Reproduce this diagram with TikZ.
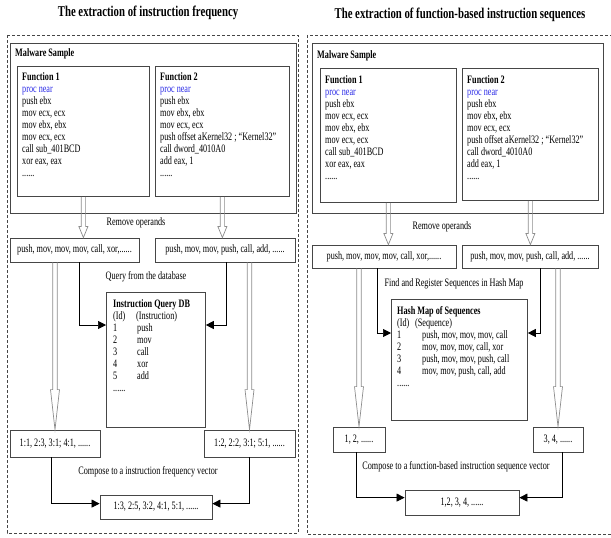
\documentclass[tikz,border=0pt]{standalone}
\usepackage{fontspec}
\setmainfont[FakeStretch=0.72]{Liberation Serif}
\newfontfamily\titlefont[FakeStretch=0.72]{Liberation Serif}
\usetikzlibrary{arrows.meta, positioning, calc}
\definecolor{ProcBlue}{RGB}{40, 40, 230}
\definecolor{BoxGray}{RGB}{70, 70, 70}
\definecolor{ShaftGray}{RGB}{140, 140, 140}

\tikzset{
    panel/.style={draw=BoxGray, line width=0.8bp, dash pattern=on 3bp off 2bp},
    box/.style={draw=BoxGray, line width=0.8bp, inner sep=0pt},
    codetext/.style={anchor=north west, align=left, inner sep=0pt, font=\fontsize{11.4}{12.1}\selectfont},
    step label/.style={font=\fontsize{11.4}{12}\selectfont},
    hollow/.style={draw=ShaftGray, line width=0.7bp, line join=miter},
    conn/.style={draw=black, line width=0.7bp, -{Triangle[length=8bp, width=8bp]}}
}

% open double-shaft arrow: start, end, head length
\newcommand{\hollowarrow}[3]{%
    \draw[hollow] let \p1=(#1), \p2=(#2) in
        (\x1-2.2bp,\y1) -- (\x1-2.2bp,\y2+#3) -- (\x1-4.5bp,\y2+#3) -- (\x1,\y2)
        -- (\x1+4.5bp,\y2+#3) -- (\x1+2.2bp,\y2+#3) -- (\x1+2.2bp,\y1);}

\begin{document}
\begin{tikzpicture}[x=1bp, y=-1bp, every node/.style={font=\fontsize{11.4}{12.1}\selectfont}]
    \useasboundingbox (0,0) rectangle (611,538);

    % --- LEFT PANEL: instruction frequency ---
    \begin{scope}
        \node[font=\titlefont\bfseries\fontsize{15}{16}\selectfont] (titleL) at (148,13) {The extraction of instruction frequency};
        \draw[panel] (7,35) rectangle (298,533);

        % Malware sample with two functions
        \node[box, anchor=north west, minimum width=286bp, minimum height=170bp] (malL) at (10,43) {};
        \node[anchor=west, inner sep=0pt, font=\bfseries\fontsize{11.4}{12}\selectfont] (malLtxt) at (15,54) {Malware Sample};
        \node[box, anchor=north west, minimum width=132bp, minimum height=130bp] (f1L) at (17,66) {};
        \node[codetext] (f1Ltxt) at ([shift={(5,6)}]f1L.north west) {\textbf{Function 1}\\ \textcolor{ProcBlue}{proc near}\\ push ebx\\ mov ecx, ecx\\ mov ebx, ebx\\ mov ecx, ecx\\ call sub\_401BCD\\ xor eax, eax\\ ......};
        \node[box, anchor=north west, minimum width=134bp, minimum height=130bp] (f2L) at (155,66) {};
        \node[codetext] (f2Ltxt) at ([shift={(5,6)}]f2L.north west) {\textbf{Function 2}\\ \textcolor{ProcBlue}{proc near}\\ push ebx\\ mov ebx, ebx\\ mov ecx, ecx\\ push offset aKernel32 ; ``Kernel32''\\ call dword\_4010A0\\ add eax, 1\\ ......};

        \node[step label] (remL) at (136,223) {Remove operands};
        \node[box, minimum width=129bp, minimum height=24bp] (ops1L) at (74.5,250) {push, mov, mov, mov, call, xor,......};
        \node[box, minimum width=140bp, minimum height=24bp] (ops2L) at (225,250) {push, mov, mov, push, call, add, ......};
        \hollowarrow{f1L.south}{f1L.south |- ops1L.north}{11bp}
        \hollowarrow{f2L.south}{f2L.south |- ops2L.north}{11bp}

        % Instruction query DB
        \node[step label] (queryL) at (146,277) {Query from the database};
        \node[box, anchor=north west, minimum width=99bp, minimum height=135bp] (dbL) at (106,292) {};
        \node[codetext] (dbLtxt) at ([shift={(7,7)}]dbL.north west) {\textbf{Instruction Query DB}\\ \makebox[23bp][l]{(Id)}(Instruction)\\ \makebox[24bp][l]{1}push\\ \makebox[24bp][l]{2}mov\\ \makebox[24bp][l]{3}call\\ \makebox[24bp][l]{4}xor\\ \makebox[24bp][l]{5}add\\ ......};
        \draw[conn] ([xshift=4.5bp]ops1L.south) |- ([yshift=-33bp]dbL.north west);
        \draw[conn] ([xshift=1bp]ops2L.south) |- ([yshift=-33bp]dbL.north east);

        % Frequency vectors
        \node[box, minimum width=90bp, minimum height=27bp] (res1L) at (55,443.5) {1:1, 2:3, 3:1; 4:1, ......};
        \node[box, minimum width=91bp, minimum height=27bp] (res2L) at (249.5,443.5) {1:2, 2:2, 3:1; 5:1, ......};
        \hollowarrow{res1L.north |- ops1L.south}{res1L.north}{40bp}
        \hollowarrow{res2L.north |- ops2L.south}{res2L.north}{40bp}

        \node[step label] (compL) at (148,472) {Compose to a instruction frequency vector};
        \node[box, minimum width=112bp, minimum height=24bp] (finL) at (156,507) {1:3, 2:5, 3:2, 4:1, 5:1, ......};
        \draw[conn] ([xshift=-4bp]res1L.south) |- ([yshift=-9bp]finL.north west);
        \draw[conn] (res2L.south) |- ([yshift=-9bp]finL.north east);
    \end{scope}

    % --- RIGHT PANEL: function-based instruction sequences ---
    \begin{scope}
        \node[font=\titlefont\bfseries\fontsize{15}{16}\selectfont] (titleR) at (460,15) {The extraction of function-based instruction sequences};
        \draw[panel] (307,35) rectangle (616,534);

        % Malware sample with two functions
        \node[box, anchor=north west, minimum width=291bp, minimum height=170bp] (malR) at (312,43) {};
        \node[anchor=west, inner sep=0pt, font=\bfseries\fontsize{11.4}{12}\selectfont] (malRtxt) at (317,56) {Malware Sample};
        \node[box, anchor=north west, minimum width=136bp, minimum height=134bp] (f1R) at (320,68) {};
        \node[codetext] (f1Rtxt) at ([shift={(5,7)}]f1R.north west) {\textbf{Function 1}\\ \textcolor{ProcBlue}{proc near}\\ push ebx\\ mov ecx, ecx\\ mov ebx, ebx\\ mov ecx, ecx\\ call sub\_401BCD\\ xor eax, eax\\ ......};
        \node[box, anchor=north west, minimum width=136bp, minimum height=132bp] (f2R) at (462,68) {};
        \node[codetext] (f2Rtxt) at ([shift={(5,7)}]f2R.north west) {\textbf{Function 2}\\ \textcolor{ProcBlue}{proc near}\\ push ebx\\ mov ebx, ebx\\ mov ecx, ecx\\ push offset aKernel32 ; ``Kernel32''\\ call dword\_4010A0\\ add eax, 1\\ ......};

        \node[step label] (remR) at (442,227) {Remove operands};
        \node[box, minimum width=144bp, minimum height=23bp] (ops1R) at (384,256.5) {push, mov, mov, mov, call, xor,......};
        \node[box, minimum width=136bp, minimum height=23bp] (ops2R) at (530,256.5) {push, mov, mov, push, call, add, ......};
        \hollowarrow{f1R.south}{f1R.south |- ops1R.north}{11bp}
        \hollowarrow{f2R.south}{f2R.south |- ops2R.north}{11bp}

        % Hash map of sequences
        \node[step label] (findR) at (454,284) {Find and Register Sequences in Hash Map};
        \node[box, anchor=north west, minimum width=136bp, minimum height=121bp] (hashR) at (391,299) {};
        \node[codetext] (hashRtxt) at ([shift={(6,7)}]hashR.north west) {\textbf{Hash Map of Sequences}\\ \makebox[18bp][l]{(Id)}(Sequence)\\ \makebox[25bp][l]{1}push, mov, mov, mov, call\\ \makebox[25bp][l]{2}mov, mov, mov, call, xor\\ \makebox[25bp][l]{3}push, mov, mov, push, call\\ \makebox[25bp][l]{4}mov, mov, push, call, add\\ ......};
        \draw[conn] ([xshift=-7bp]ops1R.south) |- ([yshift=-34bp]hashR.north west);
        \draw[conn] ([xshift=10bp]ops2R.south) |- ([yshift=-34bp]hashR.north east);

        % Sequence id vectors
        \node[box, minimum width=52bp, minimum height=25bp] (res1R) at (359,439.5) {1, 2, ......};
        \node[box, minimum width=50bp, minimum height=25bp] (res2R) at (558,439.5) {3, 4, ......};
        \hollowarrow{res1R.north |- ops1R.south}{res1R.north}{40bp}
        \hollowarrow{res2R.north |- ops2R.south}{res2R.north}{40bp}

        \node[step label] (compR) at (456,467) {Compose to a function-based instruction sequence vector};
        \node[box, minimum width=114bp, minimum height=25bp] (finR) at (462,502.5) {1,2, 3, 4, ......};
        \draw[conn] ([xshift=-3bp]res1R.south) |- ([yshift=-8bp]finR.north west);
        \draw[conn] ([xshift=4bp]res2R.south) |- ([yshift=-8bp]finR.north east);
    \end{scope}
\end{tikzpicture}
\end{document}
